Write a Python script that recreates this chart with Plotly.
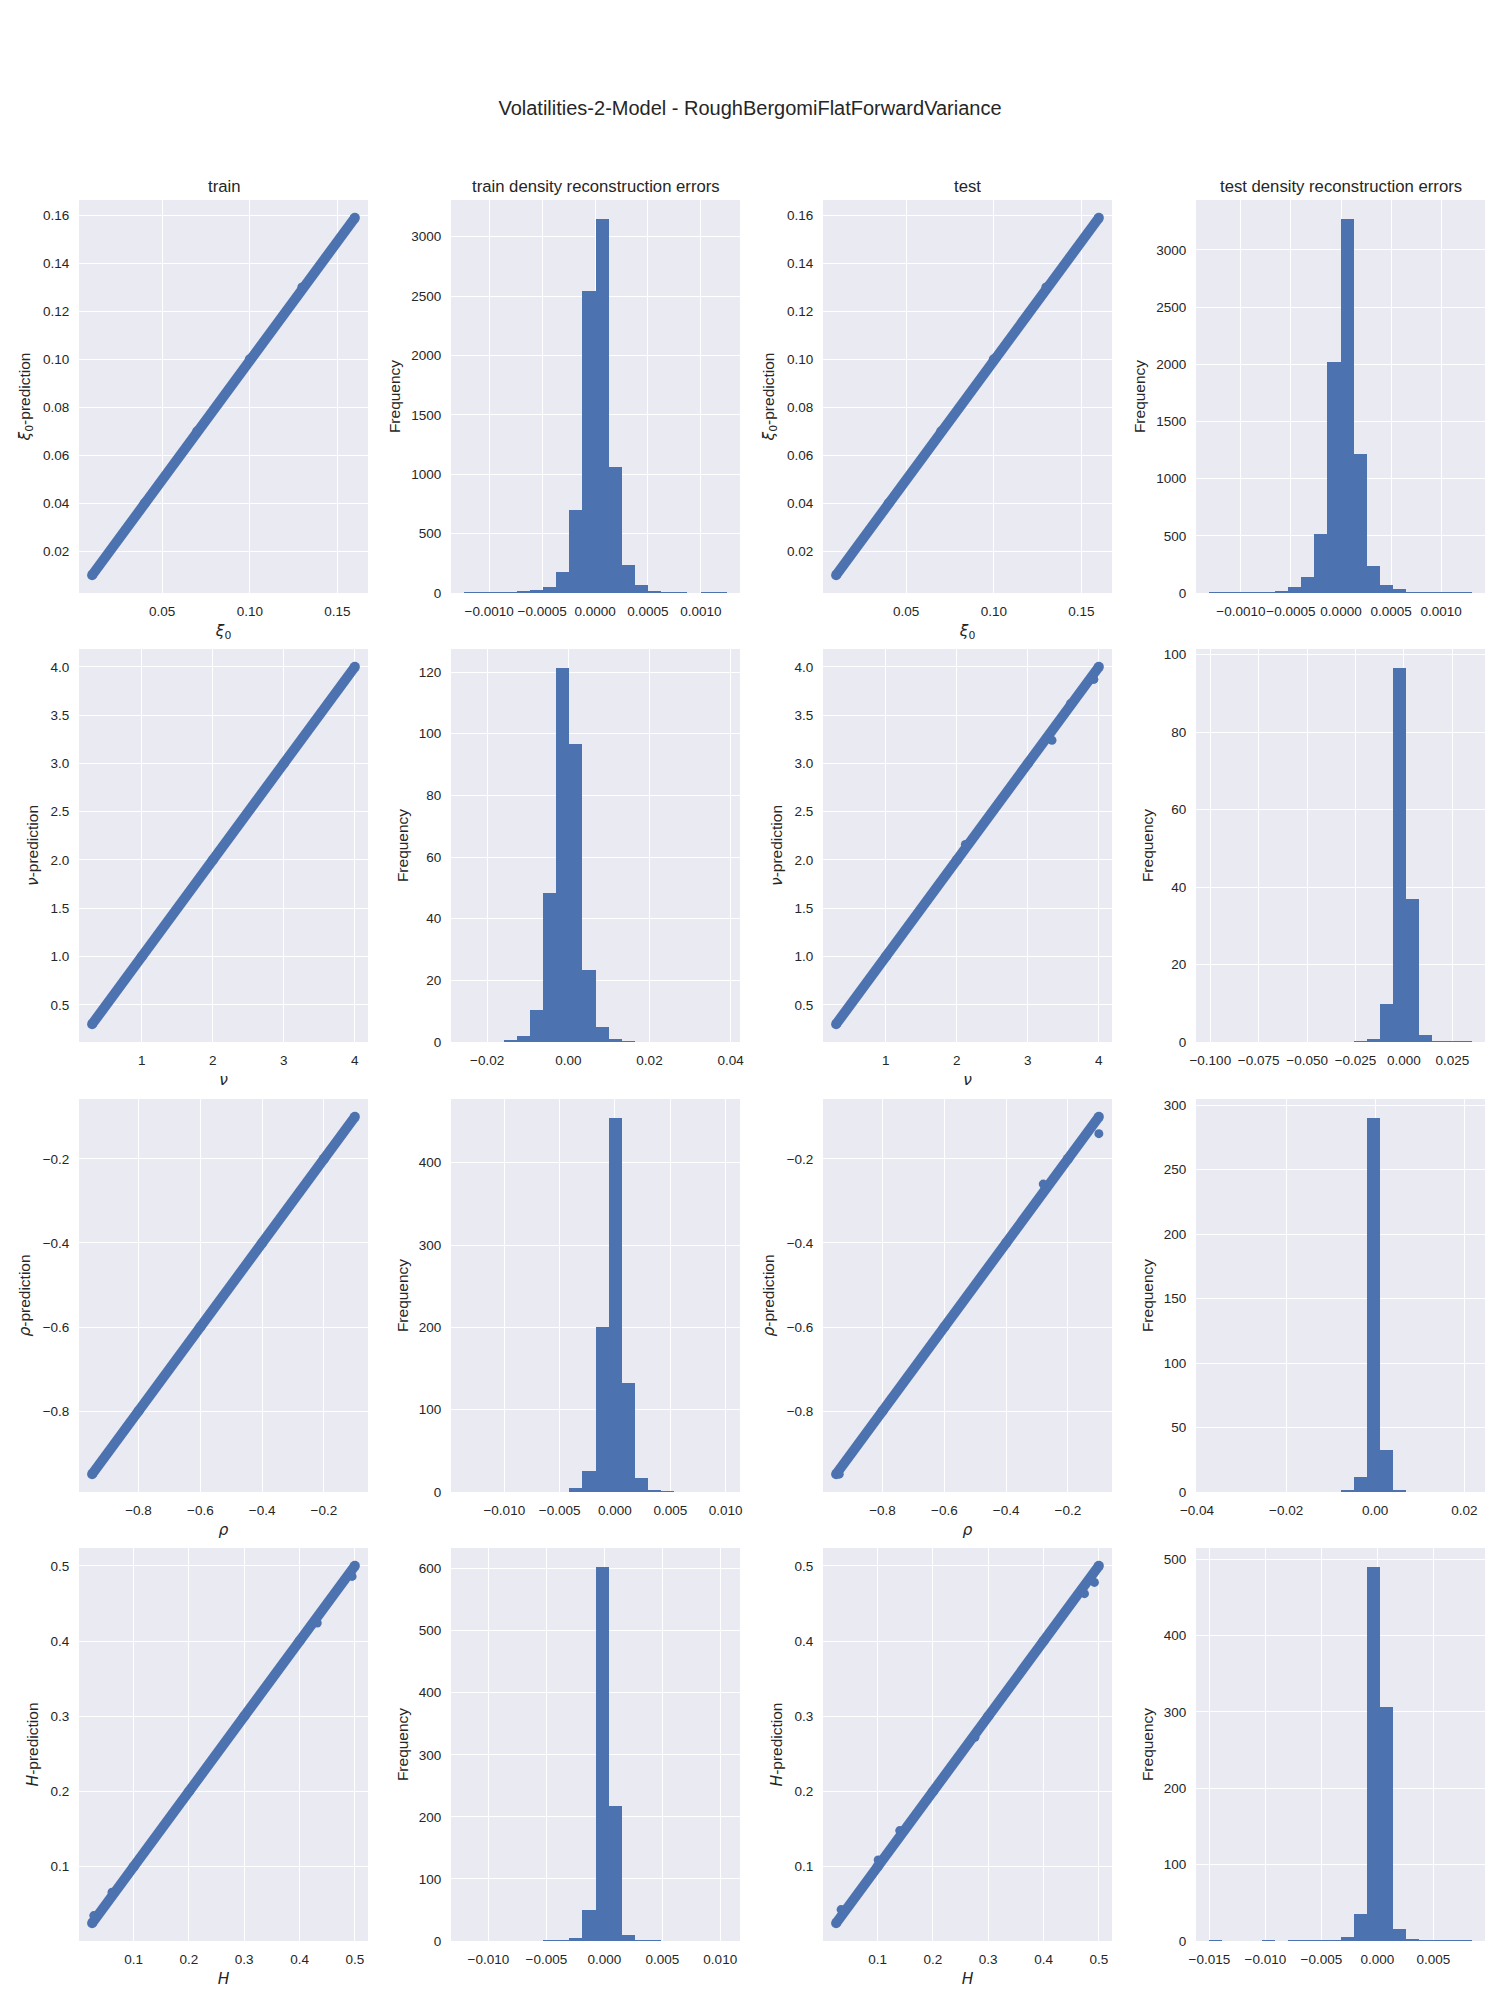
import numpy as np
import plotly.graph_objects as go
from plotly.subplots import make_subplots

# ---------------------------------------------------------------- data
# true parameter value vs network prediction (points along the dense band)
xi0_true = [0.010, 0.040, 0.070, 0.100, 0.130, 0.160]
xi0_train_pred = [0.010, 0.040, 0.070, 0.100, 0.130, 0.159]
xi0_test_pred = [0.010, 0.040, 0.070, 0.100, 0.130, 0.159]

nu_true = [0.30, 1.00, 2.00, 3.00, 4.00]
nu_train_pred = [0.30, 1.00, 2.00, 3.00, 4.00]
nu_test_pred = [0.30, 1.00, 2.00, 3.00, 4.00]

rho_true = [-0.95, -0.80, -0.60, -0.40, -0.20, -0.10]
rho_train_pred = [-0.95, -0.80, -0.60, -0.40, -0.20, -0.10]
rho_test_pred = [-0.95, -0.80, -0.60, -0.40, -0.20, -0.10]

h_true = [0.025, 0.10, 0.20, 0.30, 0.40, 0.50]
h_train_pred = [0.025, 0.10, 0.20, 0.30, 0.40, 0.50]
h_test_pred = [0.025, 0.10, 0.20, 0.30, 0.40, 0.50]

# visible off-band points
xi0_train_out_x, xi0_train_out_y = [], []
xi0_test_out_x, xi0_test_out_y = [], []
nu_train_out_x, nu_train_out_y = [], []
nu_test_out_x = [3.34, 3.93, 2.12, 3.60]
nu_test_out_y = [3.24, 3.87, 2.16, 3.62]
rho_train_out_x = [-0.28, -0.84]
rho_train_out_y = [-0.28, -0.84]
rho_test_out_x = [-0.28, -0.10, -0.77, -0.94]
rho_test_out_y = [-0.26, -0.14, -0.77, -0.95]
h_train_out_x = [0.432, 0.495, 0.061, 0.028]
h_train_out_y = [0.424, 0.486, 0.066, 0.035]
h_test_out_x = [0.492, 0.474, 0.140, 0.101, 0.034, 0.276]
h_test_out_y = [0.478, 0.463, 0.148, 0.109, 0.043, 0.272]

# reconstruction error histograms: (min, max) of errors and 20 bin heights
xi0_train_err_range = (-0.001237, 0.001246)
xi0_train_err_counts = [3, 3, 3, 3, 15, 22, 48, 174, 697, 2544,
                        3151, 1060, 233, 65, 20, 4, 4, 0, 4, 4]
xi0_test_err_range = (-0.001317, 0.001307)
xi0_test_err_counts = [3, 3, 3, 3, 3, 15, 50, 137, 514, 2019,
                       3272, 1212, 240, 67, 32, 3, 3, 3, 3, 3]

nu_train_err_range = (-0.02567, 0.03906)
nu_train_err_counts = [0, 0, 0, 0.5, 1.8, 10.4, 48.3, 121.4, 96.6, 23.3,
                       4.9, 0.9, 0.3, 0, 0, 0, 0, 0, 0, 0]
nu_test_err_range = (-0.1006, 0.0351)
nu_test_err_counts = [0, 0, 0, 0, 0, 0, 0, 0, 0, 0,
                      0, 0.2, 0.8, 9.7, 96.6, 36.9, 1.7, 0.2, 0.2, 0.2]

rho_train_err_range = (-0.01363, 0.01011)
rho_train_err_counts = [0, 0, 0, 0, 0, 0, 0, 0, 4.9, 25.5,
                        200.6, 454.7, 132.5, 17, 2.4, 1.2, 0, 0, 0, 0]
rho_test_err_range = (-0.03727, 0.02168)
rho_test_err_counts = [0, 0, 0, 0, 0, 0, 0, 0, 0, 0,
                       0.8, 11.6, 290.2, 32.6, 1.6, 0, 0, 0, 0, 0]

h_train_err_range = (-0.01209, 0.01057)
h_train_err_counts = [0, 0, 0, 0, 0, 0, 1.6, 1.6, 4.8, 50,
                      603, 217, 9, 1, 1, 0, 0, 0, 0, 0]
h_test_err_range = (-0.01502, 0.00844)
h_test_err_counts = [0.9, 0, 0, 0, 0.9, 0, 0.9, 0.9, 0.9, 0.9,
                     5.2, 35, 490, 306, 15.3, 2.2, 0.9, 0.9, 0.9, 0.9]

column_titles = ['train', 'train density reconstruction errors',
                 'test', 'test density reconstruction errors']
MATH = '<span style="font-family:DejaVu Sans">{}</span>'
param_labels = [MATH.format('<i>ξ</i><sub>0</sub>'), MATH.format('<i>ν</i>'),
                MATH.format('<i>ρ</i>'), MATH.format('<i>H</i>')]

# ---------------------------------------------------------------- style
BLUE = '#4C72B0'
BG = '#EAEAF2'
TEXT = '#262626'
FONT = 'Liberation Sans, Arial, sans-serif'
# the page body adds an 8px margin, so the figure is drawn 8px smaller
# and every position is measured from that offset
W, H = 1484, 1984
COL_X = [71, 443, 815, 1188]
ROW_Y = [192, 641, 1091, 1540]
AX_W, AX_H = 289, 393
TITLE_FONT = dict(family=FONT, size=15.5, color=TEXT)

rows = [
    dict(true=xi0_true, preds=(xi0_train_pred, xi0_test_pred),
         outs=((xi0_train_out_x, xi0_train_out_y), (xi0_test_out_x, xi0_test_out_y)),
         errs=((xi0_train_err_range, xi0_train_err_counts), (xi0_test_err_range, xi0_test_err_counts)),
         sc_dx=0.05, sc_dy=0.02, sc_fx='.2f', sc_fy='.2f',
         h_dx=(0.0005, 0.0005), h_fx=('.4f', '.4f'), h_dy=(500, 500)),
    dict(true=nu_true, preds=(nu_train_pred, nu_test_pred),
         outs=((nu_train_out_x, nu_train_out_y), (nu_test_out_x, nu_test_out_y)),
         errs=((nu_train_err_range, nu_train_err_counts), (nu_test_err_range, nu_test_err_counts)),
         sc_dx=1, sc_dy=0.5, sc_fx='d', sc_fy='.1f',
         h_dx=(0.02, 0.025), h_fx=('.2f', '.3f'), h_dy=(20, 20)),
    dict(true=rho_true, preds=(rho_train_pred, rho_test_pred),
         outs=((rho_train_out_x, rho_train_out_y), (rho_test_out_x, rho_test_out_y)),
         errs=((rho_train_err_range, rho_train_err_counts), (rho_test_err_range, rho_test_err_counts)),
         sc_dx=0.2, sc_dy=0.2, sc_fx='.1f', sc_fy='.1f',
         h_dx=(0.005, 0.02), h_fx=('.3f', '.2f'), h_dy=(100, 50)),
    dict(true=h_true, preds=(h_train_pred, h_test_pred),
         outs=((h_train_out_x, h_train_out_y), (h_test_out_x, h_test_out_y)),
         errs=((h_train_err_range, h_train_err_counts), (h_test_err_range, h_test_err_counts)),
         sc_dx=0.1, sc_dy=0.1, sc_fx='.1f', sc_fy='.1f',
         h_dx=(0.005, 0.005), h_fx=('.3f', '.3f'), h_dy=(100, 100)),
]


def padded(lo, hi, frac=0.05):
    w = hi - lo
    return [lo - frac * w, hi + frac * w]


fig = make_subplots(rows=4, cols=4)

for r, spec in enumerate(rows):
    for k in range(2):
        # scatter: true vs predicted
        c_sc = 2 * k
        pred = spec['preds'][k]
        ox, oy = spec['outs'][k]
        fig.add_trace(go.Scatter(x=spec['true'], y=pred, mode='lines+markers',
                                 line=dict(color=BLUE, width=10),
                                 marker=dict(color=BLUE, size=10),
                                 hoverinfo='skip', showlegend=False),
                      row=r + 1, col=c_sc + 1)
        if ox:
            fig.add_trace(go.Scatter(x=ox, y=oy, mode='markers',
                                     marker=dict(color=BLUE, size=9),
                                     showlegend=False),
                          row=r + 1, col=c_sc + 1)
        all_x = list(spec['true']) + list(ox)
        all_y = list(pred) + list(oy)
        fig.update_xaxes(range=padded(min(all_x), max(all_x)), tick0=0,
                         dtick=spec['sc_dx'], tickformat=spec['sc_fx'],
                         title=dict(text=param_labels[r], standoff=6,
                                    font=TITLE_FONT),
                         row=r + 1, col=c_sc + 1)
        fig.update_yaxes(range=padded(min(all_y), max(all_y)), tick0=0,
                         dtick=spec['sc_dy'], tickformat=spec['sc_fy'],
                         title=dict(text=param_labels[r] + '-prediction',
                                    standoff=8, font=TITLE_FONT),
                         row=r + 1, col=c_sc + 1)

        # histogram of reconstruction errors
        c_h = 2 * k + 1
        (lo, hi), counts = spec['errs'][k]
        edges = np.linspace(lo, hi, len(counts) + 1)
        centers = (edges[:-1] + edges[1:]) / 2
        fig.add_trace(go.Bar(x=centers, y=counts, width=edges[1] - edges[0],
                             marker=dict(color=BLUE, line=dict(width=0)),
                             showlegend=False),
                      row=r + 1, col=c_h + 1)
        fig.update_xaxes(range=padded(lo, hi), tick0=0, dtick=spec['h_dx'][k],
                         tickformat=spec['h_fx'][k], row=r + 1, col=c_h + 1)
        fig.update_yaxes(range=[0, 1.05 * max(counts)], tick0=0,
                         dtick=spec['h_dy'][k],
                         title=dict(text='Frequency', standoff=6,
                                    font=TITLE_FONT),
                         row=r + 1, col=c_h + 1)

# place every axis box where the reference has it
for r in range(4):
    for c in range(4):
        n = r * 4 + c + 1
        sfx = '' if n == 1 else str(n)
        x0, y0 = COL_X[c], ROW_Y[r]
        fig.layout['xaxis' + sfx].domain = [x0 / W, (x0 + AX_W) / W]
        fig.layout['yaxis' + sfx].domain = [1 - (y0 + AX_H) / H, 1 - y0 / H]

axis_style = dict(showgrid=True, gridcolor='white', gridwidth=1.4,
                  zeroline=False, showline=False, ticks='outside', ticklen=6,
                  tickcolor='rgba(0,0,0,0)', tickangle=0,
                  tickfont=dict(family=FONT, size=13.5, color=TEXT))
fig.update_xaxes(**axis_style)
fig.update_yaxes(**axis_style)

for c, text in enumerate(column_titles):
    fig.add_annotation(text=text, xref='paper', yref='paper',
                       x=(COL_X[c] + AX_W / 2) / W, y=1 - ROW_Y[0] / H,
                       xanchor='center', yanchor='middle', yshift=14,
                       showarrow=False,
                       font=dict(family=FONT, size=16.7, color=TEXT))

fig.update_layout(
    width=W, height=H,
    margin=dict(l=0, r=0, t=0, b=0),
    template='none',
    plot_bgcolor=BG, paper_bgcolor='white',
    bargap=0,
    showlegend=False,
    font=dict(family=FONT, color=TEXT),
    title=dict(text='Volatilities-2-Model - RoughBergomiFlatForwardVariance',
               x=742 / W, xanchor='center', xref='paper',
               y=1 - 100 / H, yanchor='middle', yref='container',
               font=dict(family=FONT, size=20, color=TEXT)),
)

fig.write_html('out.html')
